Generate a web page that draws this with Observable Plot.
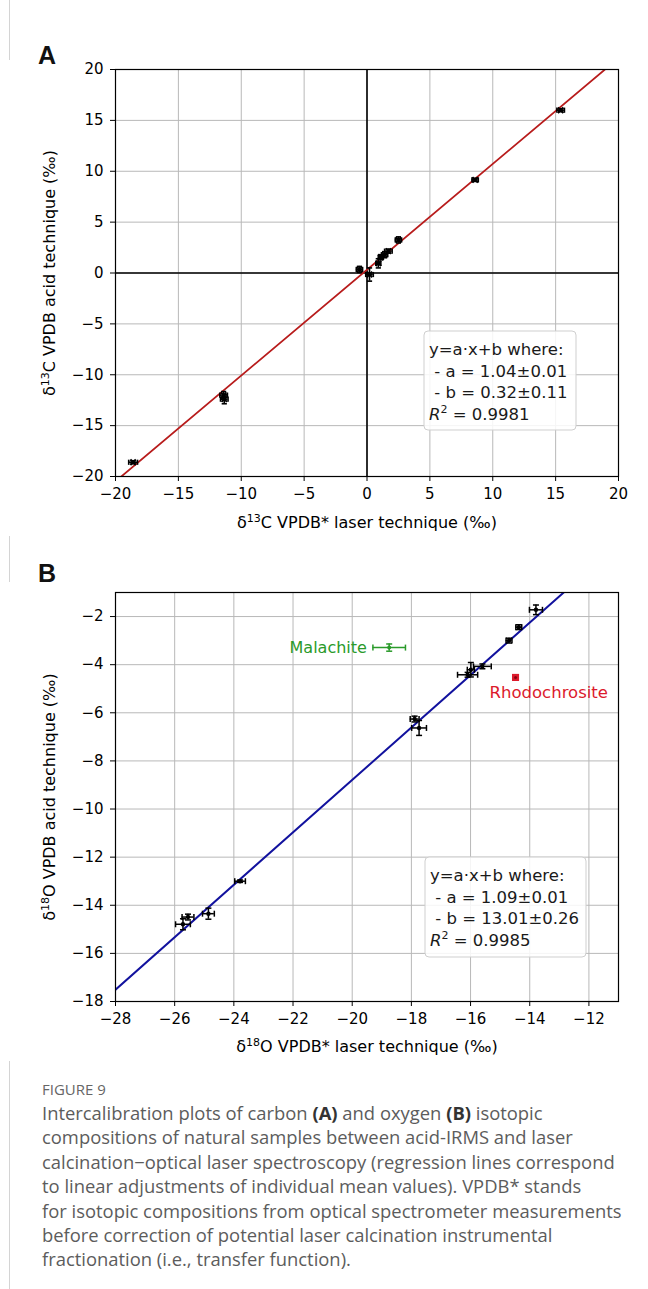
<!DOCTYPE html>
<html><head><meta charset="utf-8">
<script src="https://cdn.jsdelivr.net/npm/d3@7"></script>
<script src="https://cdn.jsdelivr.net/npm/@observablehq/plot@0.6"></script>
<style>
body{margin:0;background:#fff;}
#page{position:relative;width:648px;height:1289px;overflow:hidden;background:#fff;}
.vrule{position:absolute;left:9px;top:0;width:1px;height:1289px;background:#d4d4d4;}
.letter{position:absolute;z-index:2;font-family:"Liberation Sans",Arial,sans-serif;font-weight:bold;font-size:25px;color:#111;line-height:1;}
.chart{position:absolute;left:0;z-index:1;}
#caption{position:absolute;left:42px;top:1078px;font-family:"Open Sans","Noto Sans",sans-serif;color:#5c5c5c;}
#caption .fig{font-size:15px;line-height:22px;color:#666;margin-bottom:1px;}
#caption .line{font-size:18.4px;line-height:24.4px;white-space:nowrap;}
#caption b{color:#333;}
</style></head>
<body><div id="page">
<div class="vrule"></div>
<div class="chart" id="chartA" style="top:60px;"></div>
<div class="chart" id="chartB" style="top:582px;"></div>
<div class="letter" style="left:38px;top:43px;">A</div>
<div class="letter" style="left:38px;top:561px;">B</div>
<div id="caption">
<div class="fig">FIGURE 9</div>
<div class="line">Intercalibration plots of carbon <b>(A)</b> and oxygen <b>(B)</b> isotopic</div>
<div class="line">compositions of natural samples between acid-IRMS and laser</div>
<div class="line">calcination−optical laser spectroscopy (regression lines correspond</div>
<div class="line">to linear adjustments of individual mean values). VPDB* stands</div>
<div class="line">for isotopic compositions from optical spectrometer measurements</div>
<div class="line">before correction of potential laser calcination instrumental</div>
<div class="line">fractionation (i.e., transfer function).</div>
</div>
</div>
<script>
// ---- Panel A: carbon ----
const carbonLaser    = [-18.6, -11.4, -11.35, -0.6, 0.2, 0.9, 1.1, 1.4, 1.7, 2.5, 8.6, 15.4];
const carbonAcid     = [-18.6, -12.0, -12.4, 0.35, -0.15, 0.95, 1.55, 1.8, 2.15, 3.25, 9.15, 16.0];
const carbonLaserErr = [0.35, 0.3, 0.3, 0.25, 0.3, 0.2, 0.2, 0.25, 0.3, 0.25, 0.25, 0.3];
const carbonAcidErr  = [0.15, 0.35, 0.45, 0.3, 0.65, 0.45, 0.25, 0.3, 0.2, 0.3, 0.15, 0.15];
const carbonFit = {a: 1.04, b: 0.32};
const carbonTicks = [-20, -15, -10, -5, 0, 5, 10, 15, 20];
const carbonLegend = ["y=a·x+b where:", " - a = 1.04±0.01", " - b = 0.32±0.11", "0.9981"];

// ---- Panel B: oxygen ----
const oxygenLaser    = [-13.79, -14.37, -14.70, -15.60, -15.99, -16.10, -17.89, -17.74, -23.79, -24.86, -25.55, -25.72];
const oxygenAcid     = [-1.72, -2.44, -3.00, -4.07, -4.21, -4.42, -6.26, -6.63, -13.00, -14.35, -14.49, -14.79];
const oxygenLaserErr = [0.22, 0.1, 0.1, 0.3, 0.12, 0.34, 0.15, 0.25, 0.18, 0.2, 0.2, 0.25];
const oxygenAcidErr  = [0.2, 0.1, 0.1, 0.1, 0.3, 0.1, 0.12, 0.31, 0.05, 0.23, 0.12, 0.23];
const oxygenFit = {a: 1.09, b: 13.01};
const oxygenXTicks = [-28, -26, -24, -22, -20, -18, -16, -14, -12];
const oxygenYTicks = [-18, -16, -14, -12, -10, -8, -6, -4, -2];
const oxygenLegend = ["y=a·x+b where:", " - a = 1.09±0.01", " - b = 13.01±0.26", "0.9985"];

const outlierNames    = ["Malachite", "Rhodochrosite"];
const outlierLaser    = [-18.75, -14.48];
const outlierAcid     = [-3.29, -4.53];
const outlierLaserErr = [0.55, 0.05];
const outlierAcidErr  = [0.15, 0.05];
const outlierColors   = ["#2a9a2a", "#dc1a2c"];

const rows = (xs, ys, exs, eys) => xs.map((x, i) => ({x, y: ys[i], ex: exs[i], ey: eys[i]}));
const carbon = rows(carbonLaser, carbonAcid, carbonLaserErr, carbonAcidErr);
const oxygen = rows(oxygenLaser, oxygenAcid, oxygenLaserErr, oxygenAcidErr);
const outliers = rows(outlierLaser, outlierAcid, outlierLaserErr, outlierAcidErr).map((d, i) => ({...d, name: outlierNames[i], color: outlierColors[i]}));

const hcap = {draw(c, size) { const r = Math.sqrt(size / Math.PI); c.moveTo(-r, 0); c.lineTo(r, 0); }};
const vcap = {draw(c, size) { const r = Math.sqrt(size / Math.PI); c.moveTo(0, -r); c.lineTo(0, r); }};

function errorMarks(data, stroke, capR, sw) {
  const o = {stroke, strokeWidth: sw};
  const c = {...o, fill: "none", r: capR};
  return [
    Plot.ruleY(data, {...o, y: "y", x1: d => d.x - d.ex, x2: d => d.x + d.ex}),
    Plot.ruleX(data, {...o, x: "x", y1: d => d.y - d.ey, y2: d => d.y + d.ey}),
    Plot.dot(data, {...c, x: d => d.x - d.ex, y: "y", symbol: vcap}),
    Plot.dot(data, {...c, x: d => d.x + d.ex, y: "y", symbol: vcap}),
    Plot.dot(data, {...c, x: "x", y: d => d.y - d.ey, symbol: hcap}),
    Plot.dot(data, {...c, x: "x", y: d => d.y + d.ey, symbol: hcap})
  ];
}

function addLegend(svg, bx, by, bw, bh, lines) {
  const g = d3.select(svg).append("g")
    .attr("font-family", "DejaVu Sans").attr("font-size", 16.5).attr("fill", "#1a1a1a")
    .attr("text-anchor", "start");
  g.append("rect").attr("x", bx).attr("y", by).attr("width", bw).attr("height", bh)
    .attr("rx", 4).attr("fill", "white").attr("fill-opacity", 0.85).attr("stroke", "#cfcfcf");
  const tx = bx + 5, lh = 21.7, y0 = by + 24;
  for (let i = 0; i < 3; i++) {
    g.append("text").attr("x", tx).attr("y", y0 + i * lh).attr("xml:space", "preserve")
      .style("white-space", "pre").text(lines[i]);
  }
  const t = g.append("text").attr("x", tx).attr("y", y0 + 3 * lh);
  t.append("tspan").attr("font-style", "italic").text("R");
  t.append("tspan").attr("dy", -7).attr("font-size", 11).text("2");
  t.append("tspan").attr("dy", 7).text(" = " + lines[3]);
}

// turn unicode superscript digits in axis labels into real raised tspans
const supMap = {"⁰":"0","¹":"1","²":"2","³":"3","⁴":"4","⁵":"5","⁶":"6","⁷":"7","⁸":"8","⁹":"9"};
function fixSuperscripts(svg) {
  d3.select(svg).selectAll("text").each(function() {
    const s = this.textContent;
    if (!/[⁰¹²³⁴-⁹]/.test(s) || this.children.length) return;
    const parts = s.split(/([⁰¹²³⁴-⁹]+)/);
    this.textContent = "";
    const el = d3.select(this);
    let raised = false;
    for (const p of parts) {
      if (!p) continue;
      if (/[⁰¹²³⁴-⁹]/.test(p)) {
        el.append("tspan").attr("dy", -6).attr("font-size", 11).text([...p].map(ch => supMap[ch]).join(""));
        raised = true;
      } else {
        const ts = el.append("tspan").text(p);
        if (raised) { ts.attr("dy", 6); raised = false; }
      }
    }
  });
}

const baseStyle = {fontFamily: "DejaVu Sans", fontSize: "15px", color: "#000", background: "white", overflow: "visible"};
const gridStyle = {stroke: "#b8b8b8", strokeOpacity: 1, strokeWidth: 1};
const labelFont = {fontSize: 16};

// Panel A
const xA = [carbonTicks[0], carbonTicks[carbonTicks.length - 1]];
const svgA = Plot.plot({
  width: 648, height: 476,
  marginLeft: 115, marginRight: 30, marginTop: 9, marginBottom: 60,
  x: {domain: xA},
  y: {domain: xA},
  style: baseStyle,
  marks: [
    Plot.gridX({...gridStyle, ticks: carbonTicks}),
    Plot.gridY({...gridStyle, ticks: carbonTicks}),
    Plot.ruleX([0], {stroke: "black", strokeWidth: 1.6}),
    Plot.ruleY([0], {stroke: "black", strokeWidth: 1.6}),
    Plot.line(xA, {x: d => d, y: d => carbonFit.a * d + carbonFit.b, stroke: "#b81c1c", strokeWidth: 1.8, clip: true}),
    ...errorMarks(carbon, "black", 2.6, 1.6),
    Plot.dot(carbon, {x: "x", y: "y", r: 2.6, fill: "black", symbol: "times", stroke: "black", strokeWidth: 2}),
    Plot.frame({stroke: "black", strokeWidth: 1.2}),
    Plot.axisX({ticks: carbonTicks, tickSize: 5, tickPadding: 7, label: null}),
    Plot.axisX({ticks: [], tickSize: 0, label: "δ¹³C VPDB* laser technique (‰)", labelAnchor: "center", labelOffset: 51, labelArrow: "none", ...labelFont}),
    Plot.axisY({ticks: carbonTicks, tickSize: 5, tickPadding: 7, label: null}),
    Plot.axisY({ticks: [], tickSize: 0, label: "δ¹³C VPDB acid technique (‰)", labelAnchor: "center", labelOffset: 72, labelArrow: "none", ...labelFont})
  ]
});
addLegend(svgA, 424, 271, 152, 99, carbonLegend);
fixSuperscripts(svgA);
document.getElementById("chartA").appendChild(svgA);

// Panel B
const xB = [-28, -11];
const yB = [-18, -1];
const svgB = Plot.plot({
  width: 648, height: 479,
  marginLeft: 115, marginRight: 30, marginTop: 10, marginBottom: 60,
  x: {domain: xB},
  y: {domain: yB},
  style: baseStyle,
  marks: [
    Plot.gridX({...gridStyle, ticks: oxygenXTicks}),
    Plot.gridY({...gridStyle, ticks: oxygenYTicks}),
    Plot.line(xB, {x: d => d, y: d => oxygenFit.a * d + oxygenFit.b, stroke: "#12129e", strokeWidth: 2, clip: true}),
    ...errorMarks(oxygen, "black", 3, 1.5),
    Plot.dot(oxygen, {x: "x", y: "y", r: 2.2, fill: "black"}),
    ...errorMarks(outliers.slice(0, 1), outlierColors[0], 3, 1.5),
    Plot.dot(outliers.slice(0, 1), {x: "x", y: "y", r: 2, fill: outlierColors[0]}),
    Plot.dot(outliers.slice(1), {x: "x", y: "y", r: 4, symbol: "square", fill: outlierColors[1]}),
    Plot.dot(outliers.slice(1), {x: "x", y: "y", r: 1.5, fill: "#8a0010"}),
    Plot.text(outliers.slice(0, 1), {x: d => d.x - d.ex, y: "y", text: "name", fill: "color", textAnchor: "end", dx: -6, fontSize: 16}),
    Plot.text(outliers.slice(1), {x: "x", y: "y", text: "name", fill: "color", textAnchor: "start", dx: -26, dy: 15, fontSize: 16.5}),
    Plot.frame({stroke: "black", strokeWidth: 1.2}),
    Plot.axisX({ticks: oxygenXTicks, tickSize: 5, tickPadding: 7, label: null, tickFormat: d => d3.format("d")(d)}),
    Plot.axisX({ticks: [], tickSize: 0, label: "δ¹⁸O VPDB* laser technique (‰)", labelAnchor: "center", labelOffset: 50, labelArrow: "none", ...labelFont}),
    Plot.axisY({ticks: oxygenYTicks, tickSize: 5, tickPadding: 7, label: null, tickFormat: d => d3.format("d")(d)}),
    Plot.axisY({ticks: [], tickSize: 0, label: "δ¹⁸O VPDB acid technique (‰)", labelAnchor: "center", labelOffset: 72, labelArrow: "none", ...labelFont})
  ]
});
addLegend(svgB, 425, 275, 161, 100, oxygenLegend);
fixSuperscripts(svgB);
document.getElementById("chartB").appendChild(svgB);
</script>
</body></html>
